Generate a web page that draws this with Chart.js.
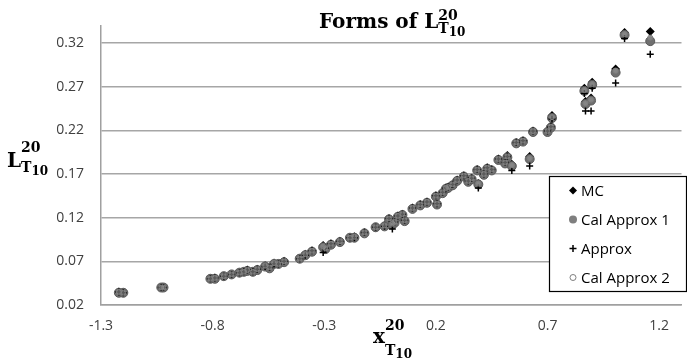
<!DOCTYPE html>
<html>
<head>
<meta charset="utf-8">
<script src="https://cdn.jsdelivr.net/npm/chart.js@4.4.1/dist/chart.umd.min.js"></script>
<style>
  html, body { margin: 0; padding: 0; background: #fff; }
  #chart { display: block; }
</style>
</head>
<body>
<canvas id="chart" width="687" height="358"></canvas>
<script>
const xValues = [-1.22, -1.20, -1.03, -1.02, -0.81, -0.79, -0.75, -0.715, -0.68, -0.66, -0.645, -0.62,
    -0.60, -0.565, -0.545, -0.525, -0.505, -0.48, -0.41, -0.385, -0.355, -0.305, -0.295, -0.27,
    -0.23, -0.185, -0.165, -0.12, -0.07, -0.03, -0.01, 0.005, 0.015, 0.03, 0.05, 0.06,
    0.095, 0.13, 0.16, 0.20, 0.205, 0.23, 0.245, 0.255, 0.275, 0.295, 0.325, 0.345,
    0.36, 0.385, 0.39, 0.415, 0.43, 0.45, 0.48, 0.51, 0.52, 0.54, 0.56, 0.59,
    0.62, 0.635, 0.70, 0.715, 0.72, 0.865, 0.87, 0.895, 0.90, 1.005, 1.045, 1.16];

const mcValues = [0.035, 0.034, 0.040, 0.040, 0.050, 0.051, 0.053, 0.055, 0.057, 0.058, 0.060, 0.058,
    0.061, 0.065, 0.063, 0.068, 0.067, 0.070, 0.073, 0.078, 0.082, 0.088, 0.085, 0.090,
    0.093, 0.097, 0.098, 0.103, 0.109, 0.111, 0.119, 0.113, 0.115, 0.122, 0.124, 0.117,
    0.131, 0.135, 0.138, 0.145, 0.136, 0.149, 0.154, 0.155, 0.158, 0.163, 0.168, 0.162,
    0.165, 0.175, 0.159, 0.170, 0.177, 0.175, 0.187, 0.183, 0.191, 0.181, 0.206, 0.208,
    0.190, 0.219, 0.219, 0.225, 0.237, 0.268, 0.253, 0.257, 0.275, 0.290, 0.332, 0.333];

const calApprox1Values = [0.034, 0.034, 0.040, 0.040, 0.050, 0.050, 0.053, 0.055, 0.057, 0.058, 0.059, 0.058,
    0.060, 0.064, 0.062, 0.067, 0.067, 0.069, 0.073, 0.077, 0.081, 0.086, 0.084, 0.089,
    0.092, 0.097, 0.097, 0.102, 0.109, 0.110, 0.118, 0.112, 0.114, 0.121, 0.123, 0.116,
    0.130, 0.134, 0.137, 0.144, 0.135, 0.148, 0.153, 0.154, 0.157, 0.162, 0.167, 0.161,
    0.164, 0.174, 0.158, 0.169, 0.176, 0.174, 0.186, 0.182, 0.189, 0.179, 0.205, 0.207,
    0.187, 0.218, 0.218, 0.223, 0.234, 0.265, 0.250, 0.254, 0.272, 0.286, 0.329, 0.322];

const approxValues = [0.035, 0.034, 0.040, 0.040, 0.050, 0.051, 0.053, 0.055, 0.057, 0.058, 0.060, 0.058,
    0.061, 0.064, 0.063, 0.067, 0.067, 0.070, 0.073, 0.077, 0.082, 0.080, 0.085, 0.090,
    0.093, 0.097, 0.097, 0.103, 0.109, 0.110, 0.119, 0.107, 0.115, 0.122, 0.124, 0.117,
    0.131, 0.135, 0.138, 0.145, 0.136, 0.149, 0.154, 0.155, 0.158, 0.163, 0.168, 0.162,
    0.165, 0.175, 0.154, 0.170, 0.177, 0.175, 0.187, 0.183, 0.190, 0.174, 0.206, 0.208,
    0.179, 0.219, 0.219, 0.224, 0.233, 0.262, 0.242, 0.242, 0.268, 0.274, 0.325, 0.307];

const calApprox2Values = [0.035, 0.034, 0.040, 0.040, 0.050, 0.051, 0.053, 0.055, 0.057, 0.058, 0.060, 0.058,
    0.061, 0.065, 0.063, 0.068, 0.067, 0.070, 0.073, 0.078, 0.082, 0.087, 0.085, 0.090,
    0.093, 0.097, 0.098, 0.103, 0.109, 0.111, 0.119, 0.113, 0.115, 0.122, 0.124, 0.117,
    0.131, 0.135, 0.138, 0.145, 0.136, 0.149, 0.154, 0.155, 0.158, 0.163, 0.168, 0.162,
    0.165, 0.175, 0.159, 0.170, 0.177, 0.175, 0.187, 0.183, 0.190, 0.180, 0.206, 0.208,
    0.188, 0.219, 0.219, 0.224, 0.235, 0.266, 0.251, 0.255, 0.273, 0.288, 0.330, 0.326];

const seriesNames = ["MC", "Cal Approx 1", "Approx", "Cal Approx 2"];

// tick labels as Excel put them (axis starts at -1.3 and 0.02)
const xTicks = [-1.3, -0.8, -0.3, 0.2, 0.7, 1.2];
const yTicks = [0.02, 0.07, 0.12, 0.17, 0.22, 0.27, 0.32];

const GREY = "#7f7f7f";
const serifBold = "'DejaVu Serif', serif";

function toPoints(ys) {
    return xValues.map((x, i) => ({x: x, y: ys[i]}));
}

// base letter with superscript "20" and subscript T with its own "10"
function drawMath(ctx, base, x, baseline, supDy, subDy) {
    ctx.font = "bold 20px " + serifBold;
    ctx.fillText(base, x, baseline);
    const w = ctx.measureText(base).width;
    ctx.font = "bold 14px " + serifBold;
    ctx.fillText("20", x + w, baseline + supDy);
    ctx.fillText("T", x + w, baseline + subDy);
    const wt = ctx.measureText("T").width;
    ctx.font = "bold 12px " + serifBold;
    ctx.fillText("10", x + w + wt, baseline + subDy + 3);
}

function drawMarker(ctx, kind, x, y) {
    ctx.save();
    if (kind === 0) {
        ctx.fillStyle = "#000";
        ctx.beginPath();
        ctx.moveTo(x, y - 4); ctx.lineTo(x + 4, y); ctx.lineTo(x, y + 4); ctx.lineTo(x - 4, y);
        ctx.closePath(); ctx.fill();
    } else if (kind === 1) {
        ctx.fillStyle = GREY;
        ctx.beginPath(); ctx.arc(x, y, 4, 0, Math.PI * 2); ctx.fill();
    } else if (kind === 2) {
        ctx.strokeStyle = "#000"; ctx.lineWidth = 1.5;
        ctx.beginPath();
        ctx.moveTo(x - 3.5, y); ctx.lineTo(x + 3.5, y);
        ctx.moveTo(x, y - 3.5); ctx.lineTo(x, y + 3.5);
        ctx.stroke();
    } else {
        ctx.fillStyle = "#fff"; ctx.strokeStyle = GREY; ctx.lineWidth = 1;
        ctx.beginPath(); ctx.arc(x, y, 3, 0, Math.PI * 2); ctx.fill(); ctx.stroke();
    }
    ctx.restore();
}

const decorPlugin = {
    id: "decor",
    afterDraw(chart) {
        const ctx = chart.ctx;
        ctx.save();
        ctx.fillStyle = "#000";
        ctx.textAlign = "left";
        ctx.textBaseline = "alphabetic";

        // title
        ctx.font = "bold 20px " + serifBold;
        const t = "Forms of ";
        ctx.fillText(t, 319, 28);
        const tw = ctx.measureText(t).width;
        drawMath(ctx, "L", 319 + tw, 28, -8, 5);

        // axis titles
        drawMath(ctx, "L", 7, 167, -15, 5);
        drawMath(ctx, "x", 373, 343, -13, 12);

        // legend box inside the plot
        const bx = 549.5, by = 176.5, bw = 137, bh = 115;
        ctx.fillStyle = "#fff";
        ctx.fillRect(bx, by, bw, bh);
        ctx.strokeStyle = "#000";
        ctx.lineWidth = 1.2;
        ctx.strokeRect(bx, by, bw, bh);
        const rows = [190.5, 219.5, 248.5, 277.5];
        ctx.font = "15px 'Open Sans', sans-serif";
        ctx.textBaseline = "middle";
        seriesNames.forEach((name, i) => {
            drawMarker(ctx, i, 573, rows[i]);
            ctx.fillStyle = "#000";
            ctx.fillText(name, 581, rows[i] + 1);
        });
        ctx.restore();
    }
};

new Chart(document.getElementById("chart"), {
    type: "scatter",
    data: {
        datasets: [
            {
                label: seriesNames[0], data: toPoints(mcValues), order: 4,
                pointStyle: "rectRot", pointRadius: 4.5, backgroundColor: "#000", borderColor: "#000", borderWidth: 0
            },
            {
                label: seriesNames[1], data: toPoints(calApprox1Values), order: 3,
                pointStyle: "circle", pointRadius: 4.5, backgroundColor: "#6f6f6f", borderColor: "#5a5a5a", borderWidth: 1
            },
            {
                label: seriesNames[2], data: toPoints(approxValues), order: 2,
                pointStyle: "cross", pointRadius: 3.5, backgroundColor: "#000", borderColor: "#000", borderWidth: 1.5
            },
            {
                label: seriesNames[3], data: toPoints(calApprox2Values), order: 1,
                pointStyle: "circle", pointRadius: 2.5, backgroundColor: "rgba(150,150,150,0.6)", borderColor: GREY, borderWidth: 1
            }
        ]
    },
    options: {
        responsive: false,
        animation: false,
        events: [],
        layout: { padding: { left: 0, right: 1, top: 23, bottom: 0 } },
        plugins: {
            legend: { display: false },
            title: { display: false },
            tooltip: { enabled: false }
        },
        scales: {
            x: {
                type: "linear",
                min: -1.3, max: 1.3,
                afterFit(scale) { scale.height = 53; },
                afterBuildTicks(scale) { scale.ticks = xTicks.map(v => ({value: v})); },
                ticks: {
                    padding: 13,
                    color: "#404040",
                    font: { family: "'Open Sans', sans-serif", size: 14 },
                    callback: v => (Math.round(v * 10) / 10).toFixed(1)
                },
                grid: { display: false, drawTicks: false },
                border: { color: "#a0a0a0", width: 1.5 }
            },
            y: {
                type: "linear",
                min: 0.02, max: 0.34,
                afterFit(scale) { scale.width = 101; },
                afterBuildTicks(scale) { scale.ticks = yTicks.map(v => ({value: v})); },
                ticks: {
                    padding: 17,
                    color: "#404040",
                    font: { family: "'Open Sans', sans-serif", size: 14 },
                    callback: v => (Math.round(v * 100) / 100).toFixed(2)
                },
                grid: { color: "#a6a6a6", lineWidth: 1.5, drawTicks: false },
                border: { color: "#a0a0a0", width: 1.5 }
            }
        }
    },
    plugins: [decorPlugin]
});
</script>
</body>
</html>
